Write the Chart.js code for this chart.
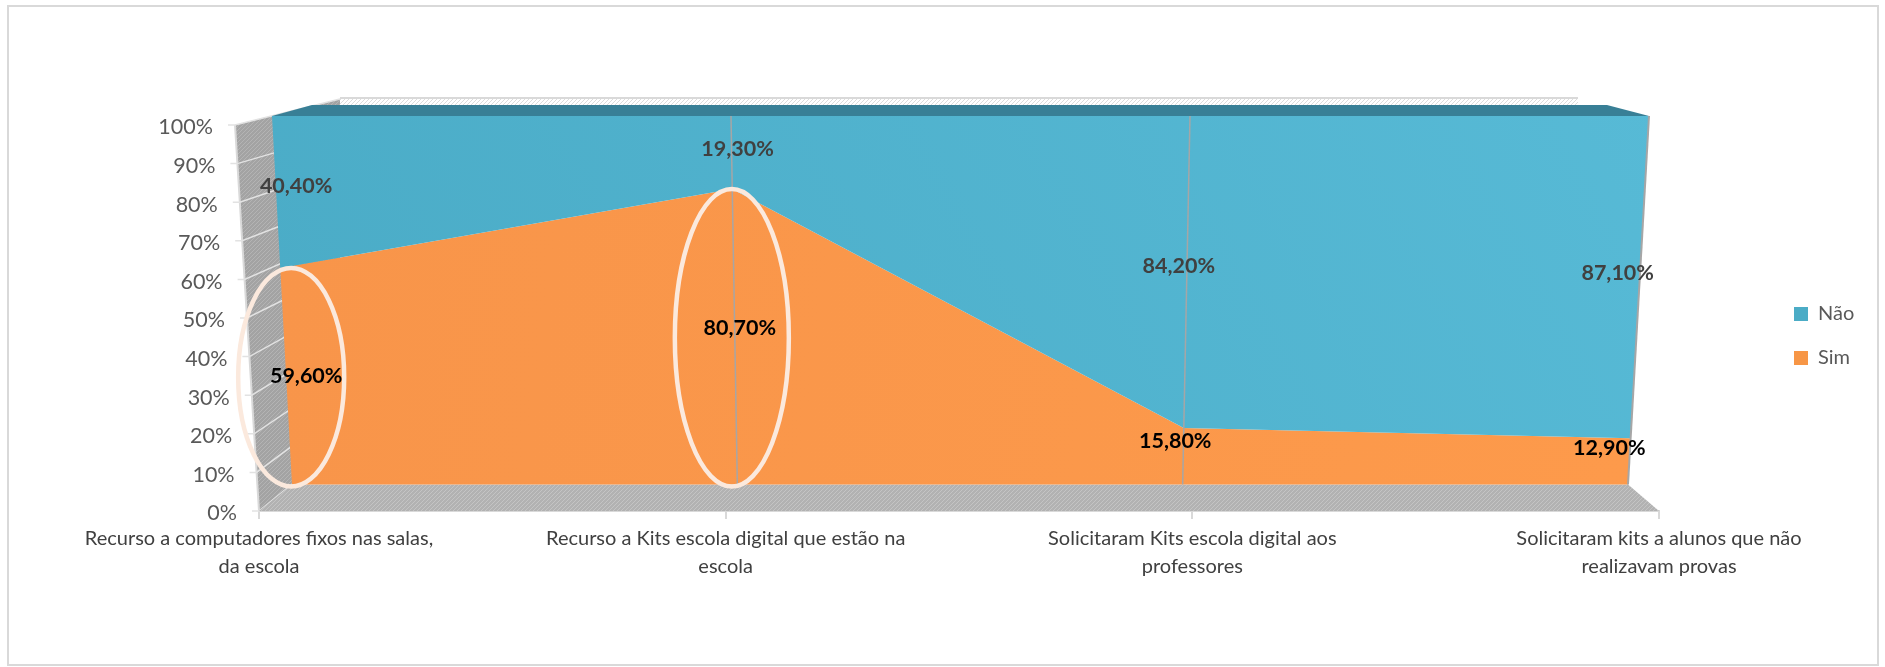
<!DOCTYPE html>
<html lang="pt">
<head>
<meta charset="utf-8">
<title>Recurso a computadores e Kits escola digital</title>
<script src="https://cdn.jsdelivr.net/npm/chart.js@4/dist/chart.umd.min.js"></script>
<style>
  html, body { margin: 0; padding: 0; background: #fff; }
  canvas { display: block; }
</style>
</head>
<body>
<canvas id="chart" width="1885" height="667"></canvas>
<script>
const categories = [
  ["Recurso a computadores fixos nas salas,", "da escola"],
  ["Recurso a Kits escola digital que estão na", "escola"],
  ["Solicitaram Kits escola digital aos", "professores"],
  ["Solicitaram kits a alunos que não", "realizavam provas"],
];
const simValues = [59.6, 80.7, 15.8, 12.9];
const naoValues = [40.4, 19.3, 84.2, 87.1];
const highlighted = [0, 1]; // categories circled on the Sim series

const FONT = "Lato, 'Open Sans', sans-serif";
const BLUE = "#4bacc6";
const ORANGE = "#f79646";

// Front face of the 3D area, the wall and the floor, in canvas pixels
const face = { top: 116, bottom: 484.5, topL: 272, topR: 1649, botL: 292, botR: 1628, k: 0.035 };
const back = { x: 340, right: 1578, top: 99, bottom: 445 };
const band = { y: 105, l: 312, r: 1607 };

const lerp = (a, b, t) => a + (b - a) * t;

// Moves a point from the flat axis rectangle onto the slanted front face
const project = (chart, x, y) => {
  const area = chart.chartArea;
  const t = (x - area.left) / (area.right - area.left);
  const v = (area.bottom - y) / (area.bottom - area.top);
  const d = v / (1 + face.k * (1 - v));
  return {
    x: lerp(lerp(face.botL, face.topL, d), lerp(face.botR, face.topR, d), t),
    y: lerp(face.bottom, face.top, d),
  };
};

const makeHatch = (ctx, bg, fg) => {
  const tile = document.createElement("canvas");
  tile.width = 4;
  tile.height = 4;
  const c = tile.getContext("2d");
  c.fillStyle = bg;
  c.fillRect(0, 0, 4, 4);
  c.strokeStyle = fg;
  c.lineWidth = 1;
  c.beginPath();
  c.moveTo(-1, 1);
  c.lineTo(1, -1);
  c.moveTo(0, 4);
  c.lineTo(4, 0);
  c.moveTo(3, 5);
  c.lineTo(5, 3);
  c.stroke();
  return ctx.createPattern(tile, "repeat");
};

const polygon = (ctx, points, fill) => {
  ctx.beginPath();
  points.forEach(([x, y], i) => (i ? ctx.lineTo(x, y) : ctx.moveTo(x, y)));
  ctx.closePath();
  ctx.fillStyle = fill;
  ctx.fill();
};

// Draws the box around the areas: back strip, wall and floor
const drawBox = (chart) => {
  const { ctx, chartArea: area } = chart;
  const yScale = chart.scales.y;

  ctx.fillStyle = makeHatch(ctx, "#ffffff", "#dcdcdc");
  ctx.fillRect(back.x, back.top, back.right - back.x, 20);
  ctx.strokeStyle = "#d9d9d9";
  ctx.lineWidth = 2;
  ctx.beginPath();
  ctx.moveTo(back.x, back.top - 1);
  ctx.lineTo(back.right, back.top - 1);
  ctx.stroke();

  polygon(
    ctx,
    [
      [area.left - 24, area.top],
      [back.x, back.top],
      [back.x, back.bottom],
      [area.left, area.bottom],
    ],
    makeHatch(ctx, "#a3a3a3", "#b4b4b4")
  );

  // Wall edge, gridlines and tick marks
  ctx.strokeStyle = "#d9d9d9";
  ctx.lineWidth = 2;
  ctx.beginPath();
  ctx.moveTo(area.left - 24, area.top);
  ctx.lineTo(area.left, area.bottom);
  ctx.stroke();
  yScale.ticks.forEach((tick) => {
    const y = yScale.getPixelForValue(tick.value);
    const v = tick.value / 100;
    const x = lerp(area.left, area.left - 24, v);
    ctx.strokeStyle = "#e2e2e2";
    ctx.lineWidth = 1.5;
    ctx.beginPath();
    ctx.moveTo(x - 7, y);
    ctx.lineTo(x, y);
    ctx.lineTo(back.x, lerp(back.bottom, back.top, v));
    ctx.stroke();
  });

  polygon(
    ctx,
    [
      [area.left, area.bottom],
      [face.botL, face.bottom],
      [face.botR, face.bottom],
      [area.right, area.bottom],
    ],
    makeHatch(ctx, "#b2b2b2", "#c4c4c4")
  );

  polygon(
    ctx,
    [
      [face.topL, face.top],
      [band.l, band.y],
      [band.r, band.y],
      [face.topR, face.top],
    ],
    "#387f96"
  );
};

const drawAreas = (chart) => {
  const { ctx, chartArea: area } = chart;
  const blue = ctx.createLinearGradient(272, 484, 1500, -200);
  blue.addColorStop(0, "#4aabc6");
  blue.addColorStop(1, "#57bad6");
  const orange = ctx.createLinearGradient(272, 300, 1628, 484);
  orange.addColorStop(0, "#f8954a");
  orange.addColorStop(1, "#fd9a4b");
  const fills = [orange, blue];

  let lower = chart.getDatasetMeta(0).data.map((p) => ({ x: p.x, y: area.bottom }));
  chart.data.datasets.forEach((dataset, i) => {
    const upper = chart.getDatasetMeta(i).data;
    const outline = [...upper, ...[...lower].reverse()].map((p) => {
      const q = project(chart, p.x, p.y);
      return [q.x, q.y];
    });
    polygon(ctx, outline, fills[i]);
    lower = upper;
  });

  // Drop lines on the inner categories and the closing right edge
  const points = chart.getDatasetMeta(0).data;
  points.forEach((p, i) => {
    if (i === 0) return;
    const foot = project(chart, p.x, area.bottom);
    const head = project(chart, p.x, area.top);
    ctx.strokeStyle = "#a6a6a6";
    ctx.lineWidth = i === points.length - 1 ? 2 : 1.5;
    ctx.beginPath();
    ctx.moveTo(foot.x, foot.y);
    ctx.lineTo(head.x, head.y);
    ctx.stroke();
  });
};

// Stacked midpoints plus a small shift for each label
const labelShift = {
  Sim: [[20, -1], [5, -11], [-8, -15], [-20, -13]],
  Não: [[20, -6], [6, -4], [-8, -8], [-22, -7]],
};
const labelColor = { Sim: "#000000", Não: "#404040" };
const formatPct = (value) => value.toFixed(2).replace(".", ",") + "%";

const drawNotes = (chart) => {
  const { ctx, chartArea: area } = chart;
  const yScale = chart.scales.y;

  // Ellipses around the highlighted Sim columns
  const sim = chart.getDatasetMeta(0).data;
  highlighted.forEach((index) => {
    const top = project(chart, sim[index].x, sim[index].y);
    const foot = project(chart, sim[index].x, area.bottom);
    const mid = project(chart, sim[index].x, (sim[index].y + area.bottom) / 2);
    ctx.strokeStyle = "#fbe9dd";
    ctx.lineWidth = 4.5;
    ctx.beginPath();
    ctx.ellipse(
      mid.x + (index === 0 ? 5 : -3),
      (top.y + foot.y) / 2 + 1,
      index === 0 ? 53 : 57,
      (foot.y - top.y) / 2 + 1,
      0,
      0,
      Math.PI * 2
    );
    ctx.stroke();
  });

  // Value labels
  ctx.font = `bold 21.5px ${FONT}`;
  ctx.textAlign = "center";
  ctx.textBaseline = "middle";
  chart.data.datasets.forEach((dataset, i) => {
    const meta = chart.getDatasetMeta(i).data;
    dataset.data.forEach((value, j) => {
      const halfway = meta[j].y + (yScale.getPixelForValue(0) - yScale.getPixelForValue(value)) / 2;
      const q = project(chart, meta[j].x, halfway);
      const [dx, dy] = labelShift[dataset.label][j];
      ctx.fillStyle = labelColor[dataset.label];
      ctx.fillText(formatPct(value), q.x + dx, q.y + dy);
    });
  });

  // Percent labels follow the slanted wall edge
  ctx.font = `21.5px ${FONT}`;
  ctx.fillStyle = "#595959";
  ctx.textAlign = "right";
  yScale.ticks.forEach((tick) => {
    const x = lerp(area.left - 22, area.left - 46, tick.value / 100);
    ctx.fillText(tick.label, x, yScale.getPixelForValue(tick.value) + 2.5);
  });
};

const boxPlugin = {
  id: "box3d",
  beforeDraw: (chart) => {
    const { ctx } = chart;
    ctx.fillStyle = "#ffffff";
    ctx.fillRect(0, 0, chart.width, chart.height);
    ctx.strokeStyle = "#d9d9d9";
    ctx.lineWidth = 2;
    ctx.strokeRect(8, 6, 1870, 659);
  },
  afterLayout: (chart) => {
    // Keep the legend out to the right of the plot
    const legend = chart.legend;
    const width = legend.width;
    const height = legend.height;
    legend.left = 1770;
    legend.right = legend.left + width;
    legend.top = 280;
    legend.bottom = legend.top + height;
  },
  beforeDatasetsDraw: (chart) => {
    drawBox(chart);
    drawAreas(chart);
  },
  afterDatasetsDraw: drawNotes,
};

document.addEventListener("DOMContentLoaded", () => {
  new Chart(document.getElementById("chart"), {
    type: "line",
    data: {
      labels: categories,
      datasets: [
        { label: "Sim", data: simValues, backgroundColor: ORANGE, borderColor: ORANGE, fill: false },
        { label: "Não", data: naoValues, backgroundColor: BLUE, borderColor: BLUE, fill: false },
      ],
    },
    options: {
      responsive: false,
      animation: false,
      layout: { padding: { left: 259, right: 226, top: 125, bottom: 86 } },
      elements: { point: { radius: 0 }, line: { borderWidth: 0, tension: 0 } },
      scales: {
        x: {
          z: 1,
          offset: false,
          grid: { drawOnChartArea: false, color: "#d9d9d9", tickLength: 8, lineWidth: 2 },
          border: { color: "#d9d9d9", width: 2 },
          ticks: {
            color: "#404040",
            font: { family: FONT, size: 20, lineHeight: 1.38 },
            maxRotation: 0,
            autoSkip: false,
            padding: 6,
          },
          afterFit: (scale) => {
            scale.height = 70;
          },
        },
        y: {
          display: false,
          stacked: true,
          min: 0,
          max: 100,
          ticks: { stepSize: 10, callback: (value) => value + "%" },
        },
      },
      plugins: {
        tooltip: { enabled: false },
        legend: {
          position: "chartArea",
          align: "start",
          reverse: true,
          labels: {
            boxWidth: 14,
            boxHeight: 14,
            padding: 24,
            color: "#595959",
            font: { family: FONT, size: 20 },
          },
        },
      },
    },
    plugins: [boxPlugin],
  });
});
</script>
</body>
</html>
